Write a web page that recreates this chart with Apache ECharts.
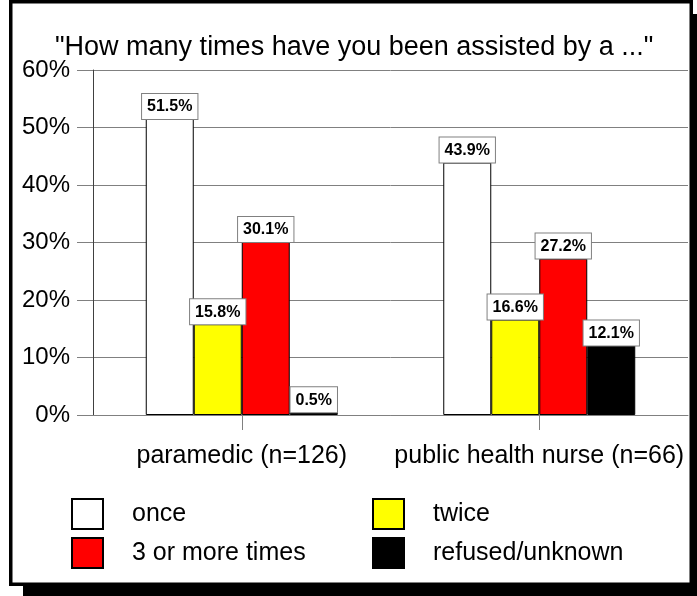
<!DOCTYPE html>
<html>
<head>
<meta charset="utf-8">
<script src="https://cdn.jsdelivr.net/npm/echarts@6/dist/echarts.min.js"></script>
<style>
  html, body { margin: 0; padding: 0; background: #fff; }
  #chart { width: 697px; height: 596px; }
</style>
</head>
<body>
<div id="chart"></div>
<script>
const titleText = '"How many times have you been assisted by a ..."';
const categories = ['paramedic (n=126)', 'public health nurse (n=66)'];
const seriesNames = ['once', 'twice', '3 or more times', 'refused/unknown'];
const onceValues = [51.5, 43.9];
const twiceValues = [15.8, 16.6];
const threePlusValues = [30.1, 27.2];
const refusedValues = [0.5, 12.1];
const seriesColors = ['#ffffff', '#ffff00', '#ff0000', '#000000'];
const yTicks = [0, 10, 20, 30, 40, 50, 60];

const FONT = 'Arial, "Liberation Sans", sans-serif';
const valuesList = [onceValues, twiceValues, threePlusValues, refusedValues];

const chart = echarts.init(document.getElementById('chart'), null, { renderer: 'canvas' });

const series = seriesNames.map((name, i) => ({
  name: name,
  type: 'bar',
  data: valuesList[i],
  barWidth: 48,
  barGap: '0%',
  itemStyle: { color: seriesColors[i], borderColor: '#000', borderWidth: 1 },
  label: {
    show: true,
    position: 'top',
    distance: 0,
    formatter: p => p.value.toFixed(1) + '%',
    fontFamily: FONT,
    fontWeight: 'bold',
    fontSize: 16,
    color: '#000',
    backgroundColor: '#fff',
    borderColor: '#808080',
    borderWidth: 1,
    padding: [5, 5, 4, 5]
  }
}));

const legendCommon = {
  orient: 'vertical',
  padding: 0,
  itemWidth: 31,
  itemHeight: 30,
  itemGap: 7,
  icon: 'rect',
  formatter: n => '{t|' + n + '}',
  textStyle: {
    color: '#000',
    fontFamily: FONT,
    fontSize: 25,
    rich: { t: { fontFamily: FONT, fontSize: 25, lineHeight: 30, color: '#000', padding: [0, 0, 0, 24] } }
  }
};

chart.setOption({
  animation: false,
  backgroundColor: '#fff',
  graphic: [
    { type: 'rect', z: -20, silent: true, shape: { x: 23, y: 14, width: 700, height: 600 }, style: { fill: '#000' } },
    { type: 'rect', z: -19, silent: true, shape: { x: 10.75, y: 1.75, width: 680.5, height: 582.5 }, style: { fill: '#fff', stroke: '#000', lineWidth: 3.5 } }
  ],
  title: {
    text: titleText,
    left: 55,
    top: 29,
    padding: [5, 0, 5, 0],
    textStyle: { fontFamily: FONT, fontSize: 27, fontWeight: 'normal', color: '#000' }
  },
  legend: [
    Object.assign({ left: 71, top: 498, data: [seriesNames[0], seriesNames[2]] }, legendCommon),
    Object.assign({ left: 372, top: 498, data: [seriesNames[1], seriesNames[3]] }, legendCommon)
  ],
  grid: { left: 93, right: 9, top: 70, bottom: 181, containLabel: false },
  xAxis: {
    type: 'category',
    data: categories,
    axisLine: { lineStyle: { color: '#808080', width: 1 } },
    axisTick: { show: true, alignWithLabel: true, length: 15, lineStyle: { color: '#808080' } },
    axisLabel: { interval: 0, hideOverlap: false, margin: 29, fontFamily: FONT, fontSize: 25, color: '#000' }
  },
  yAxis: {
    type: 'value',
    min: 0,
    max: 60,
    interval: 10,
    axisLine: { show: true, lineStyle: { color: '#404040', width: 1 } },
    axisTick: { show: true, length: 16, lineStyle: { color: '#808080' } },
    splitLine: { show: true, lineStyle: { color: '#808080', width: 1 } },
    axisLabel: {
      margin: 23,
      fontFamily: FONT,
      fontSize: 24,
      color: '#000',
      padding: [4, 0, 0, 0],
      formatter: v => yTicks.indexOf(v) >= 0 ? v + '%' : ''
    }
  },
  series: series
});
</script>
</body>
</html>
